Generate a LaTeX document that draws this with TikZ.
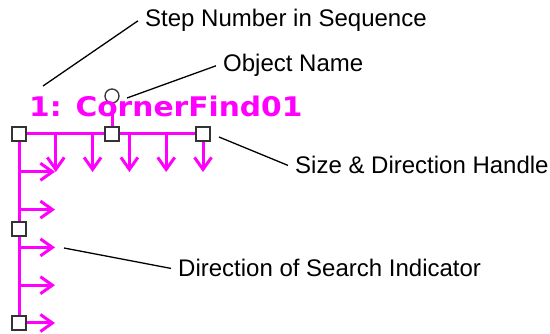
\documentclass[tikz,border=0pt]{standalone}
\usepackage{fontspec}
\usepackage{graphicx}
\setmainfont{Liberation Sans}
\newfontfamily\titlefont{DejaVu Sans}
\usetikzlibrary{arrows.meta,calc,backgrounds}
\definecolor{findpink}{HTML}{FF00FF}
\definecolor{handlegray}{HTML}{333333}

\tikzset{
  handle/.style={draw=handlegray,fill=white,line width=2pt,minimum size=14pt,inner sep=0pt},
  pinkline/.style={findpink,line width=3pt},
  searcharrow/.style={pinkline,-{Straight Barb[length=12pt,width=17pt]}},
  callout/.style={anchor=base west,inner xsep=7pt,inner ysep=0pt,font=\fontsize{24}{28}\selectfont},
  leader/.style={line width=1.3pt}
}

\begin{document}
\begin{tikzpicture}[x=1pt,y=-1pt]
\useasboundingbox (0,0) rectangle (550,334);

% handles of the search object
\node[handle] (hnw) at (19,134) {};
\node[handle] (hmid) at (112,134) {};
\node[handle] (hne) at (203,134) {};
\node[handle] (hw) at (19,229) {};
\node[handle] (hsw) at (19,323) {};
\node[circle,draw=handlegray,fill=white,line width=1.3pt,minimum size=14pt,inner sep=0pt] (rot) at (112,96) {};

\node[anchor=base west,inner sep=0pt,findpink,font=\titlefont\bfseries\fontsize{27}{31}\selectfont]
      (title) at (29,117) {\scalebox{1.1}[1]{1: CornerFind01}};

\begin{pgfonlayer}{background}
  \draw[pinkline] (hnw.center) -- (hne.center);
  \draw[pinkline] (hnw.center) -- (hsw.center);
  \draw[pinkline] (rot.center) -- (hmid.center);
  \foreach \k in {1,...,5}{
    \draw[searcharrow] ($(hnw)+(\k*36.8,0)$) -- ++(0,38);
    \draw[searcharrow] ($(hnw)+(0,\k*37.8)$) -- ++(36,0);
  }
\end{pgfonlayer}

% callouts
\node[callout] (stepLbl) at (138,27) {Step Number in Sequence};
\node[callout] (nameLbl) at (216,72) {Object Name};
\node[callout] (sizeLbl) at (288,174) {Size \& Direction Handle};
\node[callout] (searchLbl) at (171,277) {Direction of Search Indicator};

\coordinate (stepPt) at (43,86);
\coordinate (namePt) at (127,98);
\coordinate (sizePt) at (219,137);
\coordinate (searchPt) at (64,248);

\draw[leader] (stepPt) -- (stepLbl.west);
\draw[leader] (namePt) -- (nameLbl.west);
\draw[leader] (sizePt) -- (sizeLbl.west);
\draw[leader] (searchPt) -- (searchLbl.west);

\end{tikzpicture}
\end{document}
